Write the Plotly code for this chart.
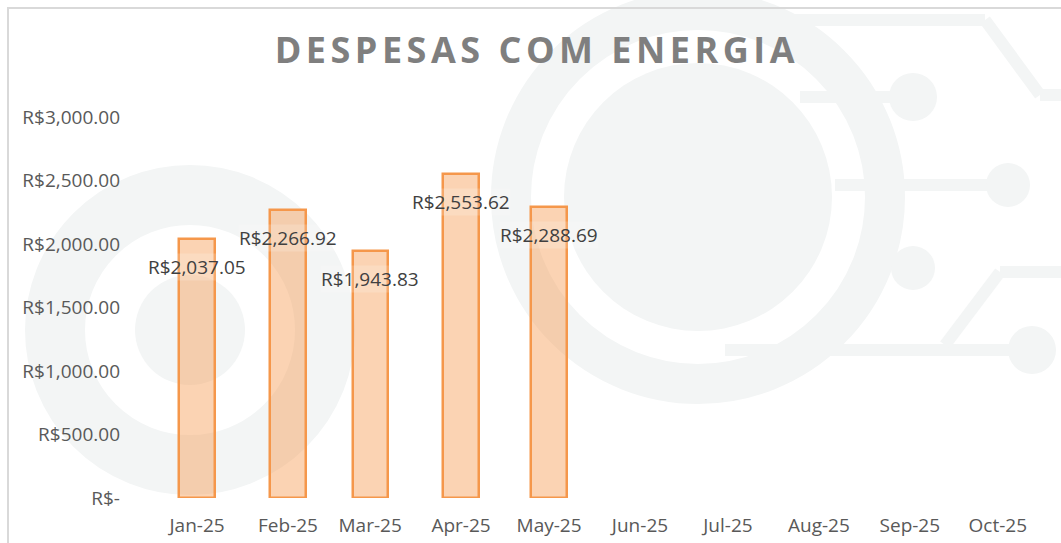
import plotly.graph_objects as go

# Monthly energy spend (date axis, one point per month start)
months = ['2025-01-01', '2025-02-01', '2025-03-01', '2025-04-01', '2025-05-01']
despesas = [2037.05, 2266.92, 1943.83, 2553.62, 2288.69]
data_labels = ['R$2,037.05', 'R$2,266.92', 'R$1,943.83', 'R$2,553.62', 'R$2,288.69']

tick_dates = ['2025-01-01', '2025-02-01', '2025-03-01', '2025-04-01', '2025-05-01',
              '2025-06-01', '2025-07-01', '2025-08-01', '2025-09-01', '2025-10-01']
tick_text = ['Jan-25', 'Feb-25', 'Mar-25', 'Apr-25', 'May-25',
             'Jun-25', 'Jul-25', 'Aug-25', 'Sep-25', 'Oct-25']

y_ticks = [0, 500, 1000, 1500, 2000, 2500, 3000]
y_text = ['R$-', 'R$500.00', 'R$1,000.00', 'R$1,500.00', 'R$2,000.00', 'R$2,500.00', 'R$3,000.00']

DAY_MS = 86400000

# plot area geometry (px) used to place the decorative watermark
L, T, W, H = 135, 117, 915, 381


def px(x):
    return (x - L) / W


def py(y):
    return (T + H - y) / H


fig = go.Figure()

fig.add_trace(go.Bar(
    x=months,
    y=despesas,
    width=12 * DAY_MS,
    marker=dict(color='rgba(246,150,75,0.42)', line=dict(color='#F5974B', width=2.5)),
    hoverinfo='skip',
    showlegend=False
))

# data labels sit just under the top of each bar
for m, v, t in zip(months, despesas, data_labels):
    fig.add_annotation(x=m, y=v, text=t, showarrow=False, yshift=-28,
                       bgcolor='rgba(255,255,255,0.18)', borderpad=0,
                       font=dict(family='Open Sans', size=19, color='#404040'))

# faint watermark (gears + circuit) and chart border
wm = '#F3F5F5'
clear = 'rgba(0,0,0,0)'


def circle(cx, cy, r, fill=True, lw=0):
    return dict(type='circle', xref='paper', yref='paper',
                x0=px(cx - r), x1=px(cx + r), y0=py(cy + r), y1=py(cy - r),
                fillcolor=wm if fill else clear,
                line=dict(color=wm, width=lw), layer='below')


def seg(x0, y0, x1, y1, lw=12):
    return dict(type='line', xref='paper', yref='paper',
                x0=px(x0), x1=px(x1), y0=py(y0), y1=py(y1),
                line=dict(color=wm, width=lw), layer='below')


shapes = [
    circle(190, 330, 55),
    circle(190, 330, 135, fill=False, lw=60),
    circle(698, 197, 134),
    circle(698, 197, 187, fill=False, lw=40),
    seg(760, 20, 985, 20), seg(985, 20, 1040, 95), seg(1040, 95, 1061, 95),
    seg(800, 97, 900, 97), circle(913, 97, 24),
    seg(835, 185, 1000, 185), circle(1008, 185, 22),
    seg(725, 350, 1015, 350), circle(1032, 350, 24),
    seg(945, 345, 1000, 272), seg(1000, 272, 1061, 272),
    circle(913, 268, 22),
    dict(type='rect', xref='paper', yref='paper', x0=px(8), x1=1.2, y0=-0.5, y1=py(8),
         line=dict(color='#D9D9D9', width=2), fillcolor=clear, layer='above'),
]

fig.update_layout(
    width=1061, height=543,
    margin=dict(l=L, r=1061 - L - W, t=T, b=543 - T - H),
    paper_bgcolor='white',
    plot_bgcolor='rgba(0,0,0,0)',
    font=dict(family='Open Sans', size=19, color='#595959'),
    title=dict(text='<b>DESPESAS COM ENERGIA</b>', x=0.506, xanchor='center', y=0.907, yanchor='middle',
               font=dict(family='Open Sans', size=36, color='#7F7F7F')),
    xaxis=dict(type='date', range=['2024-12-10 20:00', '2025-10-18 19:00'],
               tickvals=tick_dates, ticktext=tick_text, showgrid=False, zeroline=False,
               showline=False, ticklabelstandoff=14, automargin=False,
               tickfont=dict(size=19, color='#595959')),
    yaxis=dict(range=[0, 3000], tickvals=y_ticks, ticktext=y_text, showgrid=False,
               zeroline=False, showline=False, ticklabelstandoff=14, automargin=False,
               tickfont=dict(size=19, color='#595959')),
    shapes=shapes,
    bargap=0
)

post = ("document.body.style.margin='0';"
        "document.querySelectorAll('.gtitle').forEach(function(e){e.style.letterSpacing='4.5px';});")

fig.write_html('out.html', post_script=post, config={'displayModeBar': False})
